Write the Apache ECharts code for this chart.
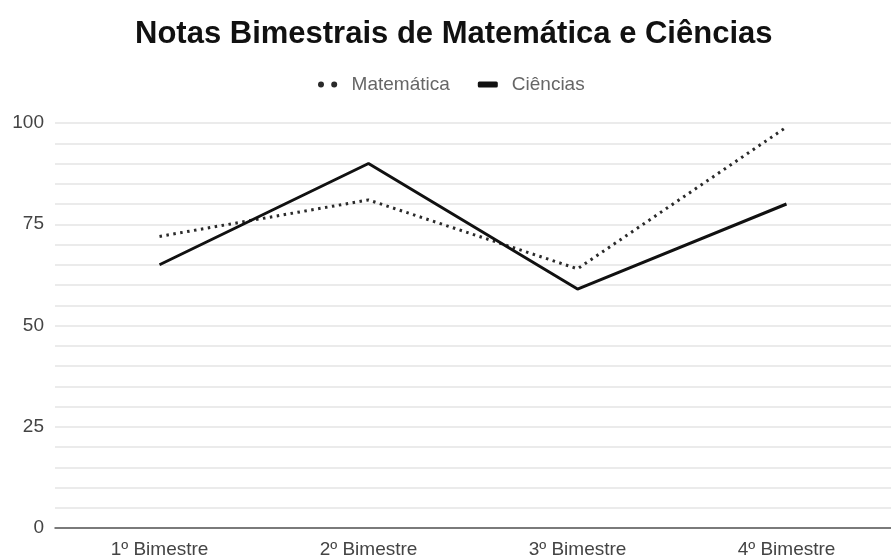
<!DOCTYPE html>
<html><head><meta charset="utf-8">
<script src="https://cdn.jsdelivr.net/npm/echarts@6/dist/echarts.min.js"></script>
<style>html,body{margin:0;padding:0;background:#fff}#c{width:891px;height:559px}</style>
</head><body><div id="c"></div>
<script>
const categories = ['1º Bimestre', '2º Bimestre', '3º Bimestre', '4º Bimestre'];
const matematica = [72, 81, 64, 99];
const ciencias = [65, 90, 59, 80];
const chart = echarts.init(document.getElementById('c'));
chart.setOption({
  backgroundColor: '#fff',
  animation: false,
  title: {
    text: 'Notas Bimestrais de Matemática e Ciências',
    left: 130, top: 14,
    textStyle: {fontFamily: 'Liberation Sans', fontWeight: 'bold', fontSize: 31, color: '#111'}
  },
  legend: {
    top: 70, left: 313, itemGap: 28, itemWidth: 20, itemHeight: 6,
    textStyle: {fontFamily: 'Liberation Sans', fontSize: 19, color: '#666', padding: [0, 0, 0, 9]},
    data: [
      {name: 'Matemática', icon: 'path://M2.5,0A2.5,2.5,0,1,1,2.4,0Z M13.5,0A2.5,2.5,0,1,1,13.4,0Z'},
      {name: 'Ciências', icon: 'roundRect'}
    ]
  },
  grid: {left: 55, right: 0, top: 123, bottom: 31, containLabel: false},
  xAxis: {
    type: 'category', data: categories, boundaryGap: true,
    axisLine: {lineStyle: {color: '#555', width: 1.5}},
    axisTick: {show: false},
    axisLabel: {fontFamily: 'Liberation Sans', fontSize: 19, color: '#444', margin: 12}
  },
  yAxis: {
    type: 'value', min: 0, max: 100, interval: 5,
    axisLine: {show: false}, axisTick: {show: false},
    axisLabel: {fontFamily: 'Liberation Sans', fontSize: 19, color: '#444', margin: 11,
      formatter: v => (v % 25 === 0 ? String(v) : '')},
    splitLine: {lineStyle: {color: '#e4e4e4', width: 1.5}}
  },
  series: [
    {name: 'Matemática', type: 'line', data: matematica, showSymbol: false, symbol: 'none',
      color: '#2a2a2a', lineStyle: {color: '#2a2a2a', width: 3, type: [2.5, 4.5]}},
    {name: 'Ciências', type: 'line', data: ciencias, showSymbol: false, symbol: 'none',
      color: '#111', lineStyle: {color: '#111', width: 3, type: 'solid'}}
  ]
});
</script></body></html>
